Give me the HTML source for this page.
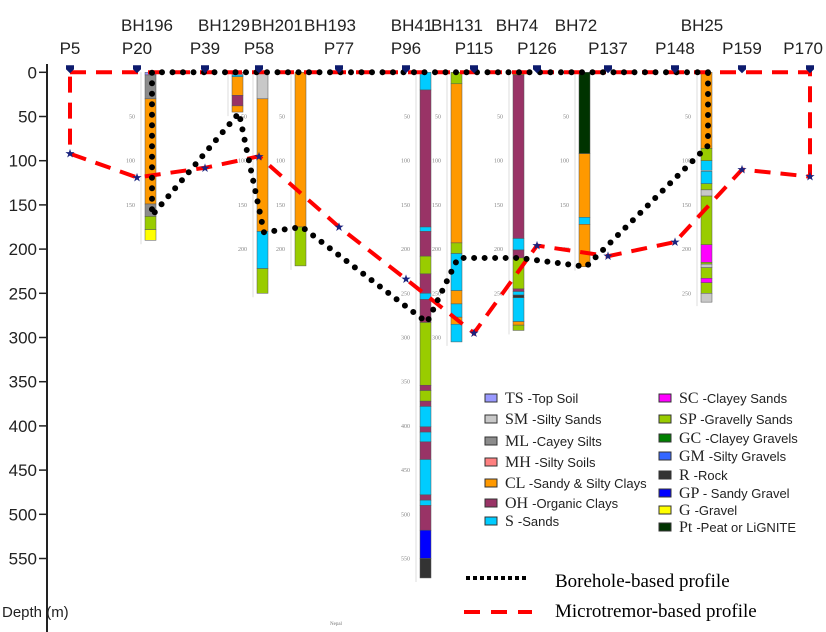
<!DOCTYPE html>
<html><head><meta charset="utf-8">
<style>
body{margin:0;background:#fff;}
svg{display:block;font-family:"Liberation Sans",Arial,sans-serif;}
.ser{font-family:"Liberation Serif","Times New Roman",serif;}
</style></head>
<body>
<svg id="chart" width="826" height="632" viewBox="0 0 826 632" xmlns="http://www.w3.org/2000/svg">
<g id="axis"></g>
<g id="boreholes"></g>
<g id="lines"></g>
<g id="heads"></g>
<g id="legend"></g>
<text x="2" y="617" font-size="15" fill="#222">Depth (m)</text>
<text x="330" y="625" font-size="5" fill="#777" class="ser">Nepal</text>
</svg>
<script>
// ---- data ----
const yTicks = [0,50,100,150,200,250,300,350,400,450,500,550];
const pointNames = ["P5","P20","P39","P58","P77","P96","P115","P126","P137","P148","P159","P170"];
const pointX = [70,137,205,259,339,406,474,537,608,675,742,810]; // station positions along section
const microDepth = [92,119,108,95,175,234,295,196,208,192,110,118];
const bhNames = ["BH196","BH129","BH201","BH193","BH41","BH131","BH74","BH72","BH25"];
const bhX = [152,239,264,302,427,458,520,586,708];
const bhProfileDepth = [162,46,181,175,283,210,210,220,83];
const bhLabelX = [147,224,277,330,412,457,517,576,702];
const colors = {TS:"#9999ff",SM:"#c8c8c8",ML:"#8c8c8c",MH:"#ff8080",CL:"#ff9900",OH:"#993366",S:"#00ccff",SC:"#ff00ff",SP:"#99cc00",GC:"#008000",GM:"#3366ff",R:"#333333",GP:"#0000ff",G:"#ffff00",Pt:"#003300"};
const layers = [
 [["TS",0,3],["ML",3,30],["CL",30,149],["ML",149,163],["SP",163,178],["G",178,190]],
 [["SM",0,3],["S",3,5],["CL",5,26],["OH",26,38],["CL",38,45]],
 [["SM",0,30],["CL",30,180],["S",180,222],["SP",222,250]],
 [["CL",0,175],["SP",175,219]],
 [["S",0,20],["OH",20,175],["S",175,180],["OH",180,208],["SP",208,228],["OH",228,250],["S",250,257],["OH",257,283],["SP",283,354],["OH",354,360],["SP",360,372],["OH",372,378],["S",378,401],["OH",401,407],["S",407,418],["OH",418,438],["S",438,478],["OH",478,484],["S",484,490],["OH",490,518],["GP",518,550],["R",550,572]],
 [["SP",0,13],["CL",13,193],["SP",193,205],["S",205,247],["CL",247,262],["S",262,277],["CL",277,285],["S",285,305]],
 [["SP",0,3],["OH",3,188],["S",188,201],["OH",201,210],["SP",210,245],["OH",245,248],["S",248,252],["R",252,255],["S",255,282],["CL",282,286],["SP",286,292]],
 [["Pt",0,92],["CL",92,164],["S",164,172],["CL",172,220]],
 [["CL",0,86],["SP",86,100],["S",100,111],["S",112,126],["SP",126,133],["SM",133,140],["SP",140,195],["SC",195,215],["SP",215,217],["SM",217,221],["SP",221,233],["SC",233,238],["SP",238,250],["SM",250,260]]
];
const legendLeft = [["TS","-Top Soil"],["SM","-Silty Sands"],["ML","-Cayey Silts"],["MH","-Silty Soils"],["CL","-Sandy & Silty Clays"],["OH","-Organic Clays"],["S","-Sands"]];
const legendRight = [["SC","-Clayey Sands"],["SP","-Gravelly Sands"],["GC","-Clayey Gravels"],["GM","-Silty Gravels"],["R","-Rock"],["GP","- Sandy Gravel"],["G","-Gravel"],["Pt","-Peat or LiGNITE"]];

// ---- scales ----
const y0=72.3, k=0.884;
const Y = d => y0 + d*k;
const NS="http://www.w3.org/2000/svg";
function mk(tag, attrs, parent){const e=document.createElementNS(NS,tag);for(const a in attrs)e.setAttribute(a,attrs[a]);parent.appendChild(e);return e;}
const axis=document.getElementById('axis'), bh=document.getElementById('boreholes'), lines=document.getElementById('lines'), heads=document.getElementById('heads'), leg=document.getElementById('legend');

// axis
let al=mk('line',{x1:47,y1:64,x2:47,y2:632,stroke:'#222','stroke-width':2},axis);


yTicks.forEach(t=>{
 const tk=mk('line',{x1:39,x2:47,y1:Y(t),y2:Y(t),stroke:'#222','stroke-width':1.5},axis);
 
 
 const tx=mk('text',{x:37,y:Y(t)+6,'text-anchor':'end','font-size':17,fill:'#222'},axis);
 tx.textContent=t;
 
 
});

// boreholes
layers.forEach((ls,i)=>{
 const cx=bhX[i]-7, maxD=ls[ls.length-1][2];
 const sl=mk('line',{x1:cx-4,x2:cx-4,y1:Y(0),y2:Y(maxD)+4,stroke:'#ddd','stroke-width':1},bh);
 
 
 for(let d=50; d<maxD; d+=50){
  const st=mk('text',{x:cx-10,y:Y(d)+2,'text-anchor':'end','font-size':6,fill:'#888',class:'ser'},bh);
  st.textContent=d;
  
  
 }
 ls.forEach(l=>{
  const r=mk('rect',{x:cx,y:Y(l[1]),width:11,height:Math.max(0.8,(l[2]-l[1])*k),fill:colors[l[0]],stroke:'#555','stroke-width':0.5},bh);
  
  
 });
});

// microtremor profile
let mp=`M${pointX[0]},${Y(0)} L${pointX[pointX.length-1]},${Y(0)}`;
for(let i=pointX.length-1;i>=0;i--) mp+=` L${pointX[i]},${Y(microDepth[i])}`;
mp+=` L${pointX[0]},${Y(0)}`;
const mpath=mk('path',{d:mp,fill:'none',stroke:'#ff0000','stroke-width':4,'stroke-dasharray':'16,10'},lines);


// borehole profile
let bp=`M${bhX[bhX.length-1]},${Y(0)} L${bhX[0]},${Y(0)}`;
bhX.forEach((x,i)=>{bp+=` L${x},${Y(bhProfileDepth[i])}`;});
bp+=` L${bhX[bhX.length-1]},${Y(0)}`;
const bpath=mk('path',{d:bp,fill:'none',stroke:'#000','stroke-width':6,'stroke-linecap':'round','stroke-dasharray':'0,10.5'},lines);


// stars
pointX.forEach((x,i)=>{
 const s=mk('text',{x:x,y:Y(microDepth[i])+4,'text-anchor':'middle','font-size':12,fill:'#1a237e'},lines);
 s.textContent='★';
 
 
});

// headers
pointX.forEach((x,i)=>{
 const m=mk('path',{d:`M${x-4},${Y(0)-7} h8 v4 l-4,4 l-4,-4 z`,fill:'#0d1b6e'},heads);
 
 
 const last = i===pointX.length-1;
 const t=mk('text',{x:last?823:x,y:54,'text-anchor':last?'end':'middle','font-size':17,fill:'#222'},heads);
 t.textContent=pointNames[i];
 
 
});
bhNames.forEach((n,i)=>{
 const t=mk('text',{x:bhLabelX[i],y:31,'text-anchor':'middle','font-size':17,fill:'#222'},heads);
 t.textContent=n;
 
 
});

// legend
function legCol(list,bx,ys){
 list.forEach((e,i)=>{
  const y=ys[i];
  const r=mk('rect',{x:bx,y:y-5,width:12,height:8,fill:colors[e[0]],stroke:'#333','stroke-width':1},leg);
  
  
  const t=mk('text',{x:bx+20,y:y+4,'font-size':13,fill:'#222'},leg);
  
  
  const a=mk('tspan',{class:'ser','font-size':16},t); a.textContent=e[0]+' ';
  const b=mk('tspan',{},t); b.textContent=e[1];
 });
}
legCol(legendLeft,485,[399,420,442,463,484,504,522]);
legCol(legendRight,659,[399,420,439,457,476,494,511,528]);
const l1=mk('line',{x1:466,x2:529,y1:578,y2:578,stroke:'#000','stroke-width':4,'stroke-dasharray':'4,3'},leg);


const l2=mk('line',{x1:464,x2:532,y1:612,y2:612,stroke:'#ff0000','stroke-width':4,'stroke-dasharray':'16,11'},leg);


const t1=mk('text',{x:555,y:587,'font-size':19,fill:'#000',class:'ser'},leg);t1.textContent='Borehole-based profile';


const t2=mk('text',{x:555,y:617,'font-size':19,fill:'#000',class:'ser'},leg);t2.textContent='Microtremor-based profile';


</script>
</body></html>
